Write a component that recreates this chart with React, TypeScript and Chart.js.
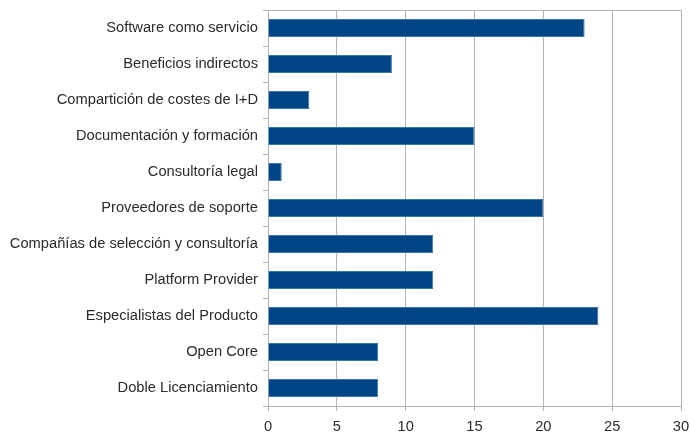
import React, { useEffect, useRef } from "react";
import { Chart, registerables } from "chart.js";

Chart.register(...registerables);

const categories = [
  "Software como servicio",
  "Beneficios indirectos",
  "Compartición de costes de I+D",
  "Documentación y formación",
  "Consultoría legal",
  "Proveedores de soporte",
  "Compañías de selección y consultoría",
  "Platform Provider",
  "Especialistas del Producto",
  "Open Core",
  "Doble Licenciamiento",
];
const values = [23, 9, 3, 15, 1, 20, 12, 12, 24, 8, 8];

export default function App() {
  const ref = useRef<HTMLCanvasElement | null>(null);
  useEffect(() => {
    document.body.style.margin = "0";
    const n = categories.length;
    const chart = new Chart(ref.current!, {
      type: "bar",
      data: {
        labels: categories,
        datasets: [
          {
            data: values,
            backgroundColor: "#004586",
            borderColor: "#3f74ab",
            borderWidth: 1,
            barPercentage: 0.5,
            categoryPercentage: 1,
          },
        ],
      },
      options: {
        indexAxis: "y",
        animation: false,
        responsive: false,
        maintainAspectRatio: false,
        layout: { padding: { top: 10, right: 9, left: 0, bottom: 0 } },
        plugins: { legend: { display: false }, tooltip: { enabled: false } },
        scales: {
          x: {
            min: 0,
            max: 30,
            ticks: { stepSize: 5, color: "#2b2b2b", font: { family: "Liberation Sans", size: 14.7 }, padding: 7 },
            grid: { color: "#b3b3b3", tickColor: "#b3b3b3", tickLength: 5 },
            border: { color: "#b3b3b3" },
            afterFit: (s: any) => { s.height = 27; s.paddingRight = 0; s.paddingLeft = 0; },
          },
          y: {
            offset: true,
            ticks: { color: "#2b2b2b", font: { family: "Liberation Sans", size: 14.7 }, padding: 5 },
            grid: {
              offset: true,
              color: (c: any) => (c.index === 0 || c.index === n ? "#b3b3b3" : "rgba(0,0,0,0)"),
              tickColor: "#b3b3b3",
              tickLength: 5,
            },
            border: { color: "#b3b3b3" },
            afterFit: (s: any) => { s.width = 268; s.paddingTop = 0; s.paddingBottom = 0; },
          },
        },
      },
    });
    return () => chart.destroy();
  }, []);
  return (
    <div style={{ position: "fixed", left: 0, top: 0, width: 690, height: 433 }}>
      <canvas ref={ref} width={690} height={433} />
    </div>
  );
}
